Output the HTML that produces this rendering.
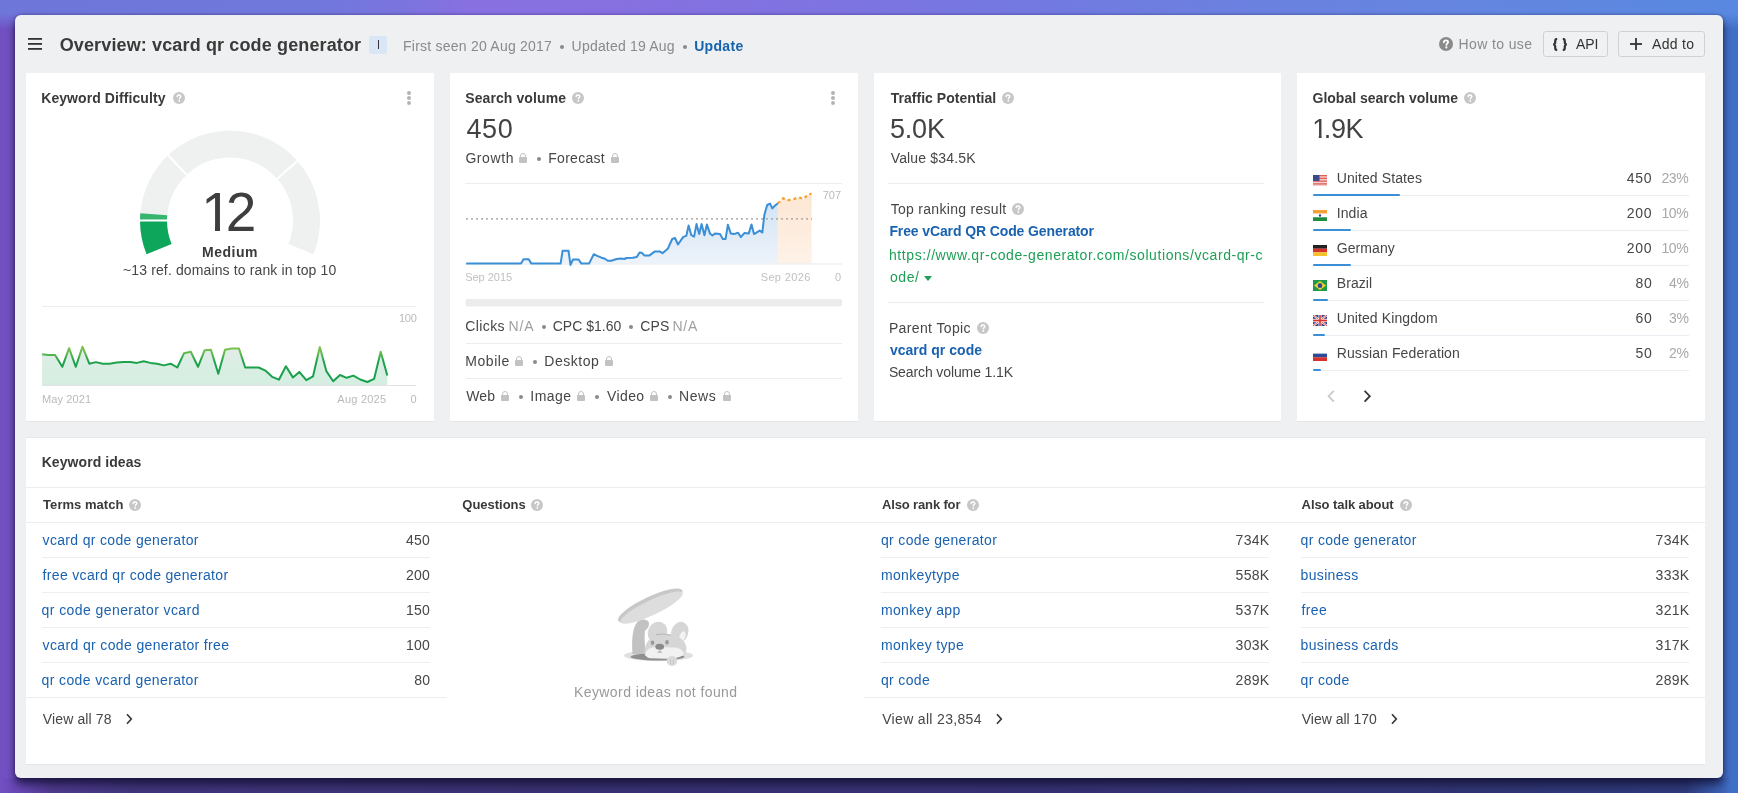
<!DOCTYPE html>
<html><head><meta charset="utf-8">
<style>
*{margin:0;padding:0;box-sizing:border-box}
html,body{width:1738px;height:793px;overflow:hidden}
body{position:relative;font-family:"Liberation Sans",sans-serif;color:#464646;font-size:14px;
background:linear-gradient(90deg,#7250c2 0%,#7a5acc 20%,#7a62d4 40%,#6a6ad6 60%,#5474d2 80%,#4070c6 100%);}
#bgt{position:absolute;left:0;top:0;width:1738px;height:30px;background:linear-gradient(90deg,#6e76da 0%,#7078dc 18%,#7a74de 23%,#8870e0 27%,#8670e0 36%,#7c74e0 50%,#7279e0 60%,#6c80e0 70%,#6486e0 85%,#5888e0 100%);-webkit-mask-image:linear-gradient(180deg,#000 0,#000 14px,transparent 30px);mask-image:linear-gradient(180deg,#000 0,#000 14px,transparent 30px)}
#bgb{position:absolute;left:0;top:778px;width:1738px;height:15px;background:linear-gradient(90deg,#7250c2 0%,#6a48b8 0.8%,#4e3a8c 3%,#40357a 8%,#3a3272 30%,#373272 60%,#303672 85%,#2e3a7a 97%,#3a62b4 99.1%,#4070c6 99.6%)}
#shadow{position:absolute;left:15px;top:15px;width:1708px;height:763px;border-radius:6px;box-shadow:0 6px 9px rgba(15,12,45,0.75),0 0 3px rgba(20,10,60,0.45)}
#win{position:absolute;left:15px;top:15px;width:1708px;height:763px;background:#eef0f1;border-radius:6px}
.a{position:absolute;white-space:nowrap}
.card{position:absolute;background:#fff;border-bottom:1px solid #e4e6e7}
.b{font-weight:700}
.h{font-weight:700;color:#3a3a3a}
.g{color:#a0a0a0}
.lnk{color:#1a62b0}
.q{display:inline-block;width:12px;height:12px;border-radius:50%;background:#c7c7c7;color:#fff;font-size:9px;font-weight:700;text-align:center;line-height:12px;vertical-align:-1px;margin-left:6px;letter-spacing:0}
.dot{display:inline-block;width:4px;height:4px;border-radius:50%;background:#8a8a8a;vertical-align:2.2px;margin:0 9px}
.lock{display:inline-block;width:8px;height:10px;position:relative;vertical-align:0px;margin-left:6px}
.lock:before{content:"";position:absolute;left:1px;top:0;width:6px;height:7px;border:1.6px solid #c2c2c2;border-radius:3px 3px 0 0;box-sizing:border-box}
.lock:after{content:"";position:absolute;left:0;top:4px;width:8px;height:6px;background:#c2c2c2;border-radius:1px}
.hr{position:absolute;height:1px;background:#ececec}
</style></head>
<body>
<div id="bgt"></div>
<div id="bgb"></div>
<div id="shadow"></div>
<div id="win"></div>
<div id="root" style="position:absolute;left:0;top:0;width:1738px;height:793px;will-change:transform">
<svg class="a" style="left:28px;top:38px" width="14" height="12" viewBox="0 0 14 12"><rect x="0" y="0" width="14" height="1.8" fill="#333"/><rect x="0" y="5" width="14" height="1.8" fill="#333"/><rect x="0" y="10" width="14" height="1.8" fill="#333"/></svg>
<div class="a b" style="left:59.70px;top:33.7px;font-size:18px;line-height:22px;letter-spacing:0.134px;color:#3a3a3a">Overview: vcard qr code generator</div>
<div class="a" style="left:369px;top:36px;width:18px;height:18px;border-radius:3px;background:#d9e6f5"></div>
<div class="a" style="left:378px;top:40px;width:1.3px;height:9px;background:#333"></div>
<div class="a " style="left:403.10px;top:37.4px;font-size:14px;line-height:18px;letter-spacing:0.229px;color:#8a8a8a">First seen 20 Aug 2017</div>
<div class="a" style="left:559.7px;top:44.7px;width:4px;height:4px;border-radius:50%;background:#8a8a8a"></div>
<div class="a " style="left:571.60px;top:37.4px;font-size:14px;line-height:18px;letter-spacing:0.200px;color:#8a8a8a">Updated 19 Aug</div>
<div class="a" style="left:682.6px;top:44.7px;width:4px;height:4px;border-radius:50%;background:#8a8a8a"></div>
<div class="a b" style="left:694.20px;top:37.4px;font-size:14px;line-height:18px;letter-spacing:0.320px;color:#1663ae">Update</div>
<svg class="a" style="left:1439px;top:37px" width="14" height="14" viewBox="0 0 12 12"><circle cx="6" cy="6" r="6" fill="#8a8a8a"/><path d="M4.2,4.6 C4.2,3.5 5,2.9 6,2.9 C7.1,2.9 7.8,3.6 7.8,4.4 C7.8,5.5 6.4,5.6 6.4,6.8" stroke="#fff" stroke-width="1.5" fill="none" stroke-linecap="round"/><circle cx="6.3" cy="8.9" r="0.9" fill="#fff"/></svg>
<div class="a " style="left:1458.60px;top:35.2px;font-size:14px;line-height:18px;letter-spacing:0.378px;color:#8a8a8a">How to use</div>
<div class="a" style="left:1543px;top:31px;width:65px;height:26px;border:1px solid #cfd1d2;border-radius:3px;background:#f0f1f2"></div>
<svg class="a" style="left:1552px;top:38px" width="16" height="13" viewBox="0 0 16 13"><path d="M5.2,0.9 C3.4,0.9 3.2,1.6 3.2,3 L3.2,4.6 C3.2,5.7 2.6,6.3 1.3,6.5 C2.6,6.7 3.2,7.3 3.2,8.4 L3.2,10 C3.2,11.4 3.4,12.1 5.2,12.1 M10.8,0.9 C12.6,0.9 12.8,1.6 12.8,3 L12.8,4.6 C12.8,5.7 13.4,6.3 14.7,6.5 C13.4,6.7 12.8,7.3 12.8,8.4 L12.8,10 C12.8,11.4 12.6,12.1 10.8,12.1" stroke="#333" stroke-width="2.2" fill="none"/></svg>
<div class="a " style="left:1576.00px;top:35.2px;font-size:14px;line-height:18px;letter-spacing:-0.100px;color:#333">API</div>
<div class="a" style="left:1618px;top:31px;width:87px;height:26px;border:1px solid #cfd1d2;border-radius:3px;background:#f0f1f2"></div>
<svg class="a" style="left:1630px;top:38px" width="12" height="12"><rect x="5.1" y="0" width="1.8" height="12" fill="#333"/><rect x="0" y="5.1" width="12" height="1.8" fill="#333"/></svg>
<div class="a " style="left:1652.00px;top:35.2px;font-size:14px;line-height:18px;letter-spacing:0.320px;color:#333">Add to</div>
<div class="card" style="left:26px;top:73px;width:408px;height:349px"></div>
<div class="card" style="left:450px;top:73px;width:408px;height:349px"></div>
<div class="card" style="left:874px;top:73px;width:407px;height:349px"></div>
<div class="card" style="left:1297px;top:73px;width:408px;height:349px"></div>
<div class="card" style="left:26px;top:436.5px;width:1679px;height:328.5px;border-top:1px solid #e6e8e9"></div>
<div class="a h" style="left:41.20px;top:89.2px;font-size:14px;line-height:18px;letter-spacing:0.082px;">Keyword Difficulty</div>
<svg class="a" style="left:173px;top:92.0px" width="12" height="12" viewBox="0 0 12 12"><circle cx="6" cy="6" r="6" fill="#c7c7c7"/><path d="M4.2,4.6 C4.2,3.5 5,2.9 6,2.9 C7.1,2.9 7.8,3.6 7.8,4.4 C7.8,5.5 6.4,5.6 6.4,6.8" stroke="#fff" stroke-width="1.5" fill="none" stroke-linecap="round"/><circle cx="6.3" cy="8.9" r="0.9" fill="#fff"/></svg>
<svg class="a" style="left:407px;top:91px" width="4" height="14"><circle cx="2" cy="2" r="1.95" fill="#b2b2b2"/><circle cx="2" cy="7" r="1.95" fill="#b2b2b2"/><circle cx="2" cy="12" r="1.95" fill="#b2b2b2"/></svg>
<svg class="a" style="left:0;top:0" width="460" height="300"><path d="M146.55,254.21 A90,90 0 1 1 313.45,254.21 L288.41,244.10 A63,63 0 1 0 171.59,244.10 Z" fill="#eff0f0"/><path d="M146.55,254.21 A90,90 0 0 1 140.00,220.50 L167.00,220.50 A63,63 0 0 0 171.59,244.10 Z" fill="#0ea65b"/><path d="M140.00,220.50 A90,90 0 0 1 140.30,213.13 L167.21,215.34 A63,63 0 0 0 167.00,220.50 Z" fill="#36b56f"/><line x1="168.00" y1="220.50" x2="139.00" y2="220.50" stroke="#fff" stroke-width="2"/><line x1="187.32" y1="175.53" x2="167.36" y2="154.49" stroke="#fff" stroke-width="2"/><line x1="276.44" y1="179.42" x2="298.15" y2="160.20" stroke="#fff" stroke-width="2"/></svg>
<div class="a" style="left:201.3px;top:182px;font-size:55px;line-height:60px;color:#3e3e3e;clip-path:polygon(0 0,60px 0,60px 44px,18.7px 44px,18.7px 60px,13.7px 60px,13.7px 44px,0 44px)">1</div>
<div class="a" style="left:225.7px;top:182px;font-size:55px;line-height:60px;color:#3e3e3e">2</div>
<div class="a h" style="left:202.00px;top:243.1px;font-size:14px;line-height:18px;letter-spacing:0.520px;">Medium</div>
<div class="a " style="left:123.00px;top:261.2px;font-size:14px;line-height:18px;letter-spacing:0.130px;">~13 ref. domains to rank in top 10</div>
<svg class="a" style="left:0;top:0" width="460" height="420"><defs><linearGradient id="kdg" gradientUnits="userSpaceOnUse" x1="0" y1="345" x2="0" y2="385"><stop offset="0" stop-color="#8cc651"/><stop offset="0.22" stop-color="#5cb94f"/><stop offset="0.4" stop-color="#1fa24c"/><stop offset="1" stop-color="#15a04c"/></linearGradient></defs><rect x="42" y="306" width="374" height="1" fill="#ededed"/><defs><linearGradient id="kdf" gradientUnits="userSpaceOnUse" x1="0" y1="346" x2="0" y2="386"><stop offset="0" stop-color="#e6ebe8"/><stop offset="0.45" stop-color="#daeee4"/><stop offset="1" stop-color="#d5eee1"/></linearGradient></defs><path d="M42.1,385.5 L42.1,354.3 48.4,355.1 55.1,354.9 62.3,366.8 69.1,348.1 75.8,366.8 82.5,346.6 89.3,363.7 96.0,362.1 102.7,363.7 109.5,363.7 116.7,362.6 123.4,361.9 130.2,361.9 136.9,362.9 143.6,361.3 150.4,362.9 157.1,363.7 163.8,365.4 170.6,363.7 177.3,367.5 184.0,353.3 190.8,351.7 198.0,366.8 204.7,350.2 210.9,349.7 218.3,373.8 225.0,349.7 231.7,348.6 239.0,348.6 245.2,367.5 251.9,367.5 258.7,367.5 265.4,370.6 272.1,376.8 278.9,379.7 285.9,366.2 292.9,377.4 299.3,371.9 306.3,380.2 313.0,376.4 319.8,347.1 326.5,371.4 333.2,381.3 340.0,375.0 346.7,377.8 353.4,375.6 360.2,379.5 367.4,382.0 374.1,378.9 380.7,351.7 387.3,375.6 L387.3,385.5 Z" fill="url(#kdf)"/><rect x="42" y="385" width="374" height="1" fill="#e3e3e3"/><polyline points="42.1,354.3 48.4,355.1 55.1,354.9 62.3,366.8 69.1,348.1 75.8,366.8 82.5,346.6 89.3,363.7 96.0,362.1 102.7,363.7 109.5,363.7 116.7,362.6 123.4,361.9 130.2,361.9 136.9,362.9 143.6,361.3 150.4,362.9 157.1,363.7 163.8,365.4 170.6,363.7 177.3,367.5 184.0,353.3 190.8,351.7 198.0,366.8 204.7,350.2 210.9,349.7 218.3,373.8 225.0,349.7 231.7,348.6 239.0,348.6 245.2,367.5 251.9,367.5 258.7,367.5 265.4,370.6 272.1,376.8 278.9,379.7 285.9,366.2 292.9,377.4 299.3,371.9 306.3,380.2 313.0,376.4 319.8,347.1 326.5,371.4 333.2,381.3 340.0,375.0 346.7,377.8 353.4,375.6 360.2,379.5 367.4,382.0 374.1,378.9 380.7,351.7 387.3,375.6" fill="none" stroke="url(#kdg)" stroke-width="2" stroke-linejoin="round"/></svg>
<div class="a " style="left:398.90px;top:311.1px;font-size:11px;line-height:14px;letter-spacing:-0.150px;color:#bababa">100</div>
<div class="a " style="left:41.90px;top:392.3px;font-size:11px;line-height:14px;letter-spacing:0.114px;color:#bababa">May 2021</div>
<div class="a " style="left:337.30px;top:392.3px;font-size:11px;line-height:14px;letter-spacing:0.243px;color:#bababa">Aug 2025</div>
<div class="a " style="left:410.60px;top:392.3px;font-size:11px;line-height:14px;letter-spacing:0.000px;color:#bababa">0</div>
<div class="a h" style="left:465.20px;top:89.2px;font-size:14px;line-height:18px;letter-spacing:0.100px;">Search volume</div>
<svg class="a" style="left:572px;top:92.0px" width="12" height="12" viewBox="0 0 12 12"><circle cx="6" cy="6" r="6" fill="#c7c7c7"/><path d="M4.2,4.6 C4.2,3.5 5,2.9 6,2.9 C7.1,2.9 7.8,3.6 7.8,4.4 C7.8,5.5 6.4,5.6 6.4,6.8" stroke="#fff" stroke-width="1.5" fill="none" stroke-linecap="round"/><circle cx="6.3" cy="8.9" r="0.9" fill="#fff"/></svg>
<svg class="a" style="left:831px;top:91px" width="4" height="14"><circle cx="2" cy="2" r="1.95" fill="#b2b2b2"/><circle cx="2" cy="7" r="1.95" fill="#b2b2b2"/><circle cx="2" cy="12" r="1.95" fill="#b2b2b2"/></svg>
<div class="a " style="left:466.5px;top:113.7px;font-size:27px;line-height:30px;color:#424242;letter-spacing:.6px">450</div>
<div class="a " style="left:465.40px;top:149.2px;font-size:14px;line-height:18px;letter-spacing:0.580px;">Growth</div>
<span class="lock" style="position:absolute;left:519.0px;top:152.7px;margin:0"></span>
<div class="a" style="left:536.8px;top:156.5px;width:4px;height:4px;border-radius:50%;background:#8a8a8a"></div>
<div class="a " style="left:548.30px;top:149.2px;font-size:14px;line-height:18px;letter-spacing:0.271px;">Forecast</div>
<span class="lock" style="position:absolute;left:611.0px;top:152.7px;margin:0"></span>
<svg class="a" style="left:0;top:0" width="870" height="320"><rect x="465" y="183" width="377" height="1" fill="#ededed"/><defs><linearGradient id="svf" gradientUnits="userSpaceOnUse" x1="0" y1="200" x2="0" y2="264"><stop offset="0" stop-color="#d3e3f4"/><stop offset="1" stop-color="#edf3fa"/></linearGradient><linearGradient id="fcf" gradientUnits="userSpaceOnUse" x1="0" y1="194" x2="0" y2="264"><stop offset="0" stop-color="#fde6d3"/><stop offset="1" stop-color="#fef2e8"/></linearGradient></defs><path d="M466.2,263.5 L466.2,263.6 521.0,263.6 523.5,259.3 528.7,259.3 531.4,263.6 560.6,263.6 562.6,250.7 568.5,250.7 570.5,264.9 573.0,259.5 578.6,259.5 581.4,263.6 589.0,263.6 593.8,254.2 596.6,255.6 601.5,257.7 605.0,258.8 607.7,260.7 611.2,260.7 616.7,259.0 620.9,258.5 624.4,259.0 626.4,258.0 632.7,257.7 636.8,257.0 639.6,252.4 641.7,252.8 644.5,255.6 649.3,255.6 654.9,251.4 659.7,251.4 662.5,253.2 668.0,248.4 672.2,239.0 675.0,238.0 678.0,244.5 683.3,236.9 686.3,235.9 688.6,225.5 691.3,235.2 694.1,236.6 696.5,224.1 699.2,234.1 701.6,224.1 704.4,235.2 706.9,224.4 709.9,233.4 712.4,235.5 715.2,233.4 720.0,234.1 722.8,238.9 725.6,238.9 727.9,224.7 730.7,233.4 733.9,234.1 738.1,232.7 740.8,237.1 744.3,233.1 748.8,233.4 751.5,224.4 754.0,234.1 759.6,230.6 762.3,232.4 764.4,214.7 767.2,205.0 770.0,203.6 772.3,208.4 774.8,205.7 777.9,203.3 L777.9,263.5 Z" fill="url(#svf)"/><path d="M777.9,263.5 L777.9,203.3 783.1,198.3 788.7,200.1 792.9,199.4 798.4,197.3 803.3,198.7 809.2,194.1 811.6,193.9 L811.6,263.5 Z" fill="url(#fcf)"/><rect x="465" y="263.5" width="377" height="1" fill="#e6eaee"/><line x1="466" y1="218.8" x2="812" y2="218.8" stroke="#9a9a9a" stroke-width="1.2" stroke-dasharray="2,3"/><polyline points="466.2,263.6 521.0,263.6 523.5,259.3 528.7,259.3 531.4,263.6 560.6,263.6 562.6,250.7 568.5,250.7 570.5,264.9 573.0,259.5 578.6,259.5 581.4,263.6 589.0,263.6 593.8,254.2 596.6,255.6 601.5,257.7 605.0,258.8 607.7,260.7 611.2,260.7 616.7,259.0 620.9,258.5 624.4,259.0 626.4,258.0 632.7,257.7 636.8,257.0 639.6,252.4 641.7,252.8 644.5,255.6 649.3,255.6 654.9,251.4 659.7,251.4 662.5,253.2 668.0,248.4 672.2,239.0 675.0,238.0 678.0,244.5 683.3,236.9 686.3,235.9 688.6,225.5 691.3,235.2 694.1,236.6 696.5,224.1 699.2,234.1 701.6,224.1 704.4,235.2 706.9,224.4 709.9,233.4 712.4,235.5 715.2,233.4 720.0,234.1 722.8,238.9 725.6,238.9 727.9,224.7 730.7,233.4 733.9,234.1 738.1,232.7 740.8,237.1 744.3,233.1 748.8,233.4 751.5,224.4 754.0,234.1 759.6,230.6 762.3,232.4 764.4,214.7 767.2,205.0 770.0,203.6 772.3,208.4 774.8,205.7 777.9,203.3" fill="none" stroke="#3a8fd6" stroke-width="2" stroke-linejoin="round"/><polyline points="777.9,203.3 783.1,198.3 788.7,200.1 792.9,199.4 798.4,197.3 803.3,198.7 809.2,194.1 811.6,193.9" fill="none" stroke="#f2a22c" stroke-width="2.2" stroke-dasharray="3,3"/><rect x="465.5" y="299" width="376.5" height="7.5" rx="2" fill="#ececec"/></svg>
<div class="a " style="right:897px;top:188.4px;font-size:11px;line-height:14px;color:#bababa">707</div>
<div class="a " style="left:465.20px;top:269.9px;font-size:11px;line-height:14px;letter-spacing:-0.029px;color:#c0c0c0">Sep 2015</div>
<div class="a " style="left:760.70px;top:269.9px;font-size:11px;line-height:14px;letter-spacing:0.357px;color:#c0c0c0">Sep 2026</div>
<div class="a " style="left:835.00px;top:269.9px;font-size:11px;line-height:14px;letter-spacing:0.000px;color:#c0c0c0">0</div>
<div class="a " style="left:465.30px;top:317.2px;font-size:14px;line-height:18px;letter-spacing:0.380px;">Clicks</div>
<div class="a g" style="left:508.50px;top:317.2px;font-size:14px;line-height:18px;letter-spacing:0.850px;">N/A</div>
<div class="a" style="left:541.6px;top:324.5px;width:4px;height:4px;border-radius:50%;background:#8a8a8a"></div>
<div class="a " style="left:552.70px;top:317.2px;font-size:14px;line-height:18px;letter-spacing:0.025px;">CPC $1.60</div>
<div class="a" style="left:629.1px;top:324.5px;width:4px;height:4px;border-radius:50%;background:#8a8a8a"></div>
<div class="a " style="left:640.20px;top:317.2px;font-size:14px;line-height:18px;letter-spacing:0.150px;">CPS</div>
<div class="a g" style="left:672.40px;top:317.2px;font-size:14px;line-height:18px;letter-spacing:0.800px;">N/A</div>
<div class="hr" style="left:466px;top:343px;width:376px;background:#ececec"></div>
<div class="a " style="left:465.30px;top:352.2px;font-size:14px;line-height:18px;letter-spacing:0.540px;">Mobile</div>
<span class="lock" style="position:absolute;left:515.0px;top:355.7px;margin:0"></span>
<div class="a" style="left:533.1px;top:359.5px;width:4px;height:4px;border-radius:50%;background:#8a8a8a"></div>
<div class="a " style="left:544.30px;top:352.2px;font-size:14px;line-height:18px;letter-spacing:0.533px;">Desktop</div>
<span class="lock" style="position:absolute;left:605.0px;top:355.7px;margin:0"></span>
<div class="hr" style="left:466px;top:378px;width:376px;background:#ececec"></div>
<div class="a " style="left:466.30px;top:387.2px;font-size:14px;line-height:18px;letter-spacing:0.100px;">Web</div>
<span class="lock" style="position:absolute;left:501.0px;top:390.7px;margin:0"></span>
<div class="a" style="left:519.1px;top:394.5px;width:4px;height:4px;border-radius:50%;background:#8a8a8a"></div>
<div class="a " style="left:530.30px;top:387.2px;font-size:14px;line-height:18px;letter-spacing:0.475px;">Image</div>
<span class="lock" style="position:absolute;left:576.7px;top:390.7px;margin:0"></span>
<div class="a" style="left:594.5px;top:394.5px;width:4px;height:4px;border-radius:50%;background:#8a8a8a"></div>
<div class="a " style="left:606.90px;top:387.2px;font-size:14px;line-height:18px;letter-spacing:0.425px;">Video</div>
<span class="lock" style="position:absolute;left:650.0px;top:390.7px;margin:0"></span>
<div class="a" style="left:667.7px;top:394.5px;width:4px;height:4px;border-radius:50%;background:#8a8a8a"></div>
<div class="a " style="left:679.10px;top:387.2px;font-size:14px;line-height:18px;letter-spacing:0.533px;">News</div>
<span class="lock" style="position:absolute;left:722.9px;top:390.7px;margin:0"></span>
<div class="a h" style="left:890.70px;top:89.4px;font-size:14px;line-height:18px;letter-spacing:0.031px;">Traffic Potential</div>
<svg class="a" style="left:1002px;top:92.0px" width="12" height="12" viewBox="0 0 12 12"><circle cx="6" cy="6" r="6" fill="#c7c7c7"/><path d="M4.2,4.6 C4.2,3.5 5,2.9 6,2.9 C7.1,2.9 7.8,3.6 7.8,4.4 C7.8,5.5 6.4,5.6 6.4,6.8" stroke="#fff" stroke-width="1.5" fill="none" stroke-linecap="round"/><circle cx="6.3" cy="8.9" r="0.9" fill="#fff"/></svg>
<div class="a " style="left:890px;top:113.7px;font-size:27px;line-height:30px;color:#424242;letter-spacing:-.2px">5.0K</div>
<div class="a " style="left:890.70px;top:149.2px;font-size:14px;line-height:18px;letter-spacing:0.164px;">Value $34.5K</div>
<div class="hr" style="left:888px;top:183px;width:376px;background:#ececec"></div>
<div class="a " style="left:890.70px;top:199.9px;font-size:14px;line-height:18px;letter-spacing:0.294px;">Top ranking result</div>
<svg class="a" style="left:1012px;top:202.7px" width="12" height="12" viewBox="0 0 12 12"><circle cx="6" cy="6" r="6" fill="#c7c7c7"/><path d="M4.2,4.6 C4.2,3.5 5,2.9 6,2.9 C7.1,2.9 7.8,3.6 7.8,4.4 C7.8,5.5 6.4,5.6 6.4,6.8" stroke="#fff" stroke-width="1.5" fill="none" stroke-linecap="round"/><circle cx="6.3" cy="8.9" r="0.9" fill="#fff"/></svg>
<div class="a b lnk" style="left:889.40px;top:222.2px;font-size:14px;line-height:18px;letter-spacing:-0.115px;">Free vCard QR Code Generator</div>
<div class="a " style="left:889.00px;top:245.7px;font-size:14px;line-height:18px;letter-spacing:0.574px;color:#1d9f55">https://www.qr-code-generator.com/solutions/vcard-qr-c</div>
<div class="a " style="left:890px;top:267.7px;font-size:14px;line-height:18px;color:#1d9f55;letter-spacing:.53px">ode/<span style="display:inline-block;width:0;height:0;border-left:4px solid transparent;border-right:4px solid transparent;border-top:5px solid #1d9f55;vertical-align:1px;margin-left:5px"></span></div>
<div class="hr" style="left:888px;top:302px;width:376px;background:#ececec"></div>
<div class="a " style="left:888.90px;top:319.4px;font-size:14px;line-height:18px;letter-spacing:0.373px;">Parent Topic</div>
<svg class="a" style="left:977px;top:322.2px" width="12" height="12" viewBox="0 0 12 12"><circle cx="6" cy="6" r="6" fill="#c7c7c7"/><path d="M4.2,4.6 C4.2,3.5 5,2.9 6,2.9 C7.1,2.9 7.8,3.6 7.8,4.4 C7.8,5.5 6.4,5.6 6.4,6.8" stroke="#fff" stroke-width="1.5" fill="none" stroke-linecap="round"/><circle cx="6.3" cy="8.9" r="0.9" fill="#fff"/></svg>
<div class="a b lnk" style="left:889.90px;top:341.3px;font-size:14px;line-height:18px;letter-spacing:0.025px;">vcard qr code</div>
<div class="a " style="left:888.90px;top:363.1px;font-size:14px;line-height:18px;letter-spacing:-0.112px;">Search volume 1.1K</div>
<div class="a h" style="left:1312.50px;top:89.2px;font-size:14px;line-height:18px;letter-spacing:0.000px;">Global search volume</div>
<svg class="a" style="left:1464px;top:92.0px" width="12" height="12" viewBox="0 0 12 12"><circle cx="6" cy="6" r="6" fill="#c7c7c7"/><path d="M4.2,4.6 C4.2,3.5 5,2.9 6,2.9 C7.1,2.9 7.8,3.6 7.8,4.4 C7.8,5.5 6.4,5.6 6.4,6.8" stroke="#fff" stroke-width="1.5" fill="none" stroke-linecap="round"/><circle cx="6.3" cy="8.9" r="0.9" fill="#fff"/></svg>
<div class="a" style="left:1312.2px;top:114.1px;font-size:27px;line-height:30px;color:#424242;clip-path:polygon(0 0,30px 0,30px 22px,9.4px 22px,9.4px 30px,6.6px 30px,6.6px 22px,0 22px)">1</div>
<div class="a" style="left:1323.8px;top:114.1px;font-size:27px;line-height:30px;color:#424242;letter-spacing:-0.35px">.9K</div>
<svg class="a" style="left:1313px;top:174.8px" width="14" height="11" viewBox="0 0 14 10" preserveAspectRatio="none"><rect width="14" height="10" fill="#fff"/><rect y="0.00" width="14" height="0.77" fill="#d8433d"/><rect y="1.43" width="14" height="0.77" fill="#d8433d"/><rect y="2.86" width="14" height="0.77" fill="#d8433d"/><rect y="4.29" width="14" height="0.77" fill="#d8433d"/><rect y="5.71" width="14" height="0.77" fill="#d8433d"/><rect y="7.14" width="14" height="0.77" fill="#d8433d"/><rect y="8.57" width="14" height="0.77" fill="#d8433d"/><rect width="6.5" height="5.4" fill="#3a4a8a"/></svg>
<div class="a " style="left:1336.70px;top:169.2px;font-size:14px;line-height:18px;letter-spacing:0.100px;">United States</div>
<div class="a " style="left:1626.70px;top:169.2px;font-size:14px;line-height:18px;letter-spacing:0.800px;">450</div>
<div class="a " style="left:1661.40px;top:169.2px;font-size:14px;line-height:18px;letter-spacing:-0.400px;color:#a8a8a8">23%</div>
<div class="hr" style="left:1313px;top:194.5px;width:376px;background:#e9edf1"></div>
<div class="a" style="left:1313px;top:194.0px;width:87px;height:2px;background:#3a8fd6;border-radius:1px"></div>
<svg class="a" style="left:1313px;top:209.8px" width="14" height="11" viewBox="0 0 14 10" preserveAspectRatio="none"><rect width="14" height="3.4" fill="#f5a13a"/><rect y="3.3" width="14" height="3.4" fill="#fff"/><rect y="6.6" width="14" height="3.4" fill="#1e8e3e"/><circle cx="7" cy="5" r="1.2" fill="#3a4a9a"/></svg>
<div class="a " style="left:1336.70px;top:204.2px;font-size:14px;line-height:18px;letter-spacing:0.100px;">India</div>
<div class="a " style="left:1626.70px;top:204.2px;font-size:14px;line-height:18px;letter-spacing:0.800px;">200</div>
<div class="a " style="left:1661.40px;top:204.2px;font-size:14px;line-height:18px;letter-spacing:-0.400px;color:#a8a8a8">10%</div>
<div class="hr" style="left:1313px;top:229.5px;width:376px;background:#e9edf1"></div>
<div class="a" style="left:1313px;top:229.0px;width:38px;height:2px;background:#3a8fd6;border-radius:1px"></div>
<svg class="a" style="left:1313px;top:244.8px" width="14" height="11" viewBox="0 0 14 10" preserveAspectRatio="none"><rect width="14" height="3.4" fill="#222"/><rect y="3.3" width="14" height="3.4" fill="#d8322c"/><rect y="6.6" width="14" height="3.4" fill="#f6c22b"/></svg>
<div class="a " style="left:1336.70px;top:239.2px;font-size:14px;line-height:18px;letter-spacing:0.100px;">Germany</div>
<div class="a " style="left:1626.70px;top:239.2px;font-size:14px;line-height:18px;letter-spacing:0.800px;">200</div>
<div class="a " style="left:1661.40px;top:239.2px;font-size:14px;line-height:18px;letter-spacing:-0.400px;color:#a8a8a8">10%</div>
<div class="hr" style="left:1313px;top:264.5px;width:376px;background:#e9edf1"></div>
<div class="a" style="left:1313px;top:264.0px;width:38px;height:2px;background:#3a8fd6;border-radius:1px"></div>
<svg class="a" style="left:1313px;top:279.8px" width="14" height="11" viewBox="0 0 14 10" preserveAspectRatio="none"><rect width="14" height="10" fill="#1f9a48"/><path d="M7,1 L13,5 L7,9 L1,5 Z" fill="#f3d02c"/><circle cx="7" cy="5" r="2.3" fill="#2d4a9a"/></svg>
<div class="a " style="left:1336.70px;top:274.2px;font-size:14px;line-height:18px;letter-spacing:0.100px;">Brazil</div>
<div class="a " style="left:1635.50px;top:274.2px;font-size:14px;line-height:18px;letter-spacing:0.800px;">80</div>
<div class="a " style="left:1669.00px;top:274.2px;font-size:14px;line-height:18px;letter-spacing:-0.400px;color:#a8a8a8">4%</div>
<div class="hr" style="left:1313px;top:299.5px;width:376px;background:#e9edf1"></div>
<div class="a" style="left:1313px;top:299.0px;width:15px;height:2px;background:#3a8fd6;border-radius:1px"></div>
<svg class="a" style="left:1313px;top:314.8px" width="14" height="11" viewBox="0 0 14 10" preserveAspectRatio="none"><rect width="14" height="10" fill="#2d3e8a"/><path d="M0,0 L14,10 M14,0 L0,10" stroke="#fff" stroke-width="2"/><path d="M0,0 L14,10 M14,0 L0,10" stroke="#d8322c" stroke-width="0.8"/><rect x="5.5" width="3" height="10" fill="#fff"/><rect y="3.5" width="14" height="3" fill="#fff"/><rect x="6.2" width="1.6" height="10" fill="#d8322c"/><rect y="4.2" width="14" height="1.6" fill="#d8322c"/></svg>
<div class="a " style="left:1336.70px;top:309.2px;font-size:14px;line-height:18px;letter-spacing:0.100px;">United Kingdom</div>
<div class="a " style="left:1635.50px;top:309.2px;font-size:14px;line-height:18px;letter-spacing:0.800px;">60</div>
<div class="a " style="left:1669.00px;top:309.2px;font-size:14px;line-height:18px;letter-spacing:-0.400px;color:#a8a8a8">3%</div>
<div class="hr" style="left:1313px;top:334.5px;width:376px;background:#e9edf1"></div>
<div class="a" style="left:1313px;top:334.0px;width:12px;height:2px;background:#3a8fd6;border-radius:1px"></div>
<svg class="a" style="left:1313px;top:349.8px" width="14" height="11" viewBox="0 0 14 10" preserveAspectRatio="none"><rect width="14" height="3.4" fill="#fff"/><rect y="3.3" width="14" height="3.4" fill="#2d4a9a"/><rect y="6.6" width="14" height="3.4" fill="#d8322c"/></svg>
<div class="a " style="left:1336.70px;top:344.2px;font-size:14px;line-height:18px;letter-spacing:0.100px;">Russian Federation</div>
<div class="a " style="left:1635.50px;top:344.2px;font-size:14px;line-height:18px;letter-spacing:0.800px;">50</div>
<div class="a " style="left:1669.00px;top:344.2px;font-size:14px;line-height:18px;letter-spacing:-0.400px;color:#a8a8a8">2%</div>
<div class="hr" style="left:1313px;top:369.5px;width:376px;background:#e9edf1"></div>
<div class="a" style="left:1313px;top:369.0px;width:8px;height:2px;background:#3a8fd6;border-radius:1px"></div>
<svg class="a" style="left:1326.5px;top:390px" width="9" height="13"><path d="M6.8,0.8 L1.6,6.2 L6.8,11.6" stroke="#c8c8c8" stroke-width="1.7" fill="none"/></svg>
<svg class="a" style="left:1363px;top:390px" width="9" height="13"><path d="M1.6,0.8 L6.8,6.2 L1.6,11.6" stroke="#383838" stroke-width="1.8" fill="none"/></svg>
<div class="a h" style="left:41.70px;top:453.2px;font-size:14px;line-height:18px;letter-spacing:0.067px;">Keyword ideas</div>
<div class="hr" style="left:26px;top:487px;width:1679px;background:#ededed"></div>
<div class="hr" style="left:26px;top:522px;width:1679px;background:#ededed"></div>
<div class="a h" style="left:43.10px;top:496.2px;font-size:13px;line-height:18px;letter-spacing:0.040px;">Terms match</div>
<svg class="a" style="left:129px;top:499.1px" width="12" height="12" viewBox="0 0 12 12"><circle cx="6" cy="6" r="6" fill="#c7c7c7"/><path d="M4.2,4.6 C4.2,3.5 5,2.9 6,2.9 C7.1,2.9 7.8,3.6 7.8,4.4 C7.8,5.5 6.4,5.6 6.4,6.8" stroke="#fff" stroke-width="1.5" fill="none" stroke-linecap="round"/><circle cx="6.3" cy="8.9" r="0.9" fill="#fff"/></svg>
<div class="a lnk" style="left:42.60px;top:531.3px;font-size:14px;line-height:18px;letter-spacing:0.327px;">vcard qr code generator</div>
<div class="a " style="left:405.90px;top:531.3px;font-size:14px;line-height:18px;letter-spacing:0.300px;">450</div>
<div class="hr" style="left:41.800000000000004px;top:557.1px;width:388.2px;background:#edf0f3"></div>
<div class="a lnk" style="left:42.60px;top:566.3px;font-size:14px;line-height:18px;letter-spacing:0.326px;">free vcard qr code generator</div>
<div class="a " style="left:405.90px;top:566.3px;font-size:14px;line-height:18px;letter-spacing:0.300px;">200</div>
<div class="hr" style="left:41.800000000000004px;top:592.1px;width:388.2px;background:#edf0f3"></div>
<div class="a lnk" style="left:41.60px;top:601.3px;font-size:14px;line-height:18px;letter-spacing:0.418px;">qr code generator vcard</div>
<div class="a " style="left:405.90px;top:601.3px;font-size:14px;line-height:18px;letter-spacing:0.300px;">150</div>
<div class="hr" style="left:41.800000000000004px;top:627.1px;width:388.2px;background:#edf0f3"></div>
<div class="a lnk" style="left:42.60px;top:636.3px;font-size:14px;line-height:18px;letter-spacing:0.363px;">vcard qr code generator free</div>
<div class="a " style="left:405.90px;top:636.3px;font-size:14px;line-height:18px;letter-spacing:0.300px;">100</div>
<div class="hr" style="left:41.800000000000004px;top:662.1px;width:388.2px;background:#edf0f3"></div>
<div class="a lnk" style="left:41.60px;top:671.3px;font-size:14px;line-height:18px;letter-spacing:0.373px;">qr code vcard generator</div>
<div class="a " style="left:414.20px;top:671.3px;font-size:14px;line-height:18px;letter-spacing:0.300px;">80</div>
<div class="a " style="left:42.80px;top:710.3px;font-size:14px;line-height:18px;letter-spacing:0.130px;">View all 78</div>
<div class="a h" style="left:462.30px;top:496.2px;font-size:13px;line-height:18px;letter-spacing:-0.012px;">Questions</div>
<svg class="a" style="left:531px;top:499.1px" width="12" height="12" viewBox="0 0 12 12"><circle cx="6" cy="6" r="6" fill="#c7c7c7"/><path d="M4.2,4.6 C4.2,3.5 5,2.9 6,2.9 C7.1,2.9 7.8,3.6 7.8,4.4 C7.8,5.5 6.4,5.6 6.4,6.8" stroke="#fff" stroke-width="1.5" fill="none" stroke-linecap="round"/><circle cx="6.3" cy="8.9" r="0.9" fill="#fff"/></svg>
<div class="a h" style="left:882.00px;top:496.2px;font-size:13px;line-height:18px;letter-spacing:-0.142px;">Also rank for</div>
<svg class="a" style="left:967px;top:499.1px" width="12" height="12" viewBox="0 0 12 12"><circle cx="6" cy="6" r="6" fill="#c7c7c7"/><path d="M4.2,4.6 C4.2,3.5 5,2.9 6,2.9 C7.1,2.9 7.8,3.6 7.8,4.4 C7.8,5.5 6.4,5.6 6.4,6.8" stroke="#fff" stroke-width="1.5" fill="none" stroke-linecap="round"/><circle cx="6.3" cy="8.9" r="0.9" fill="#fff"/></svg>
<div class="a lnk" style="left:881.00px;top:531.3px;font-size:14px;line-height:18px;letter-spacing:0.330px;">qr code generator</div>
<div class="a " style="left:1235.60px;top:531.3px;font-size:14px;line-height:18px;letter-spacing:0.300px;">734K</div>
<div class="hr" style="left:881.2px;top:557.1px;width:387.79999999999995px;background:#edf0f3"></div>
<div class="a lnk" style="left:881.00px;top:566.3px;font-size:14px;line-height:18px;letter-spacing:0.330px;">monkeytype</div>
<div class="a " style="left:1235.60px;top:566.3px;font-size:14px;line-height:18px;letter-spacing:0.300px;">558K</div>
<div class="hr" style="left:881.2px;top:592.1px;width:387.79999999999995px;background:#edf0f3"></div>
<div class="a lnk" style="left:881.00px;top:601.3px;font-size:14px;line-height:18px;letter-spacing:0.330px;">monkey app</div>
<div class="a " style="left:1235.60px;top:601.3px;font-size:14px;line-height:18px;letter-spacing:0.300px;">537K</div>
<div class="hr" style="left:881.2px;top:627.1px;width:387.79999999999995px;background:#edf0f3"></div>
<div class="a lnk" style="left:881.00px;top:636.3px;font-size:14px;line-height:18px;letter-spacing:0.330px;">monkey type</div>
<div class="a " style="left:1235.60px;top:636.3px;font-size:14px;line-height:18px;letter-spacing:0.300px;">303K</div>
<div class="hr" style="left:881.2px;top:662.1px;width:387.79999999999995px;background:#edf0f3"></div>
<div class="a lnk" style="left:881.00px;top:671.3px;font-size:14px;line-height:18px;letter-spacing:0.330px;">qr code</div>
<div class="a " style="left:1235.60px;top:671.3px;font-size:14px;line-height:18px;letter-spacing:0.300px;">289K</div>
<div class="a " style="left:882.20px;top:710.3px;font-size:14px;line-height:18px;letter-spacing:0.329px;">View all 23,854</div>
<div class="a h" style="left:1301.60px;top:496.2px;font-size:13px;line-height:18px;letter-spacing:-0.079px;">Also talk about</div>
<svg class="a" style="left:1400px;top:499.1px" width="12" height="12" viewBox="0 0 12 12"><circle cx="6" cy="6" r="6" fill="#c7c7c7"/><path d="M4.2,4.6 C4.2,3.5 5,2.9 6,2.9 C7.1,2.9 7.8,3.6 7.8,4.4 C7.8,5.5 6.4,5.6 6.4,6.8" stroke="#fff" stroke-width="1.5" fill="none" stroke-linecap="round"/><circle cx="6.3" cy="8.9" r="0.9" fill="#fff"/></svg>
<div class="a lnk" style="left:1300.60px;top:531.3px;font-size:14px;line-height:18px;letter-spacing:0.330px;">qr code generator</div>
<div class="a " style="left:1655.60px;top:531.3px;font-size:14px;line-height:18px;letter-spacing:0.300px;">734K</div>
<div class="hr" style="left:1300.8px;top:557.1px;width:388.20000000000005px;background:#edf0f3"></div>
<div class="a lnk" style="left:1300.60px;top:566.3px;font-size:14px;line-height:18px;letter-spacing:0.330px;">business</div>
<div class="a " style="left:1655.60px;top:566.3px;font-size:14px;line-height:18px;letter-spacing:0.300px;">333K</div>
<div class="hr" style="left:1300.8px;top:592.1px;width:388.20000000000005px;background:#edf0f3"></div>
<div class="a lnk" style="left:1301.60px;top:601.3px;font-size:14px;line-height:18px;letter-spacing:0.330px;">free</div>
<div class="a " style="left:1655.60px;top:601.3px;font-size:14px;line-height:18px;letter-spacing:0.300px;">321K</div>
<div class="hr" style="left:1300.8px;top:627.1px;width:388.20000000000005px;background:#edf0f3"></div>
<div class="a lnk" style="left:1300.60px;top:636.3px;font-size:14px;line-height:18px;letter-spacing:0.330px;">business cards</div>
<div class="a " style="left:1655.60px;top:636.3px;font-size:14px;line-height:18px;letter-spacing:0.300px;">317K</div>
<div class="hr" style="left:1300.8px;top:662.1px;width:388.20000000000005px;background:#edf0f3"></div>
<div class="a lnk" style="left:1300.60px;top:671.3px;font-size:14px;line-height:18px;letter-spacing:0.330px;">qr code</div>
<div class="a " style="left:1655.60px;top:671.3px;font-size:14px;line-height:18px;letter-spacing:0.300px;">289K</div>
<div class="a " style="left:1301.80px;top:710.3px;font-size:14px;line-height:18px;letter-spacing:-0.027px;">View all 170</div>
<div class="hr" style="left:26px;top:697px;width:421px;background:#ededed"></div>
<div class="hr" style="left:864px;top:697px;width:841px;background:#ededed"></div>
<div class="a " style="left:574.00px;top:683.2px;font-size:14px;line-height:18px;letter-spacing:0.409px;color:#999">Keyword ideas not found</div>
<svg class="a" style="left:124.9px;top:713px" width="8" height="12"><path d="M2,1.2 L6.3,6 L2,10.8" stroke="#3a3a3a" stroke-width="1.7" fill="none"/></svg>
<svg class="a" style="left:995.3px;top:713px" width="8" height="12"><path d="M2,1.2 L6.3,6 L2,10.8" stroke="#3a3a3a" stroke-width="1.7" fill="none"/></svg>
<svg class="a" style="left:1389.5px;top:713px" width="8" height="12"><path d="M2,1.2 L6.3,6 L2,10.8" stroke="#3a3a3a" stroke-width="1.7" fill="none"/></svg>
<svg class="a" style="left:600px;top:580px" width="110" height="95" viewBox="600 580 110 95">
<ellipse cx="658.6" cy="655.5" rx="34.5" ry="5.8" fill="#e0e0e0"/>
<ellipse cx="657.5" cy="656.8" rx="27" ry="3.6" fill="#8f8f8f"/>
<path d="M632.5,654 C631.5,640 632.5,628 637,622.5 C640,619 645,618.5 648.3,621.5 C650,624 648.5,628.5 645,630.5 C644,638 645,646 646,654 Z" fill="#c2c2c2"/>
<ellipse cx="657.5" cy="632.5" rx="9.5" ry="11" transform="rotate(25 657.5 632.5)" fill="#d6d6d6"/>
<ellipse cx="679.7" cy="632.5" rx="8.5" ry="11" transform="rotate(20 679.7 632.5)" fill="#d6d6d6"/>
<ellipse cx="682.3" cy="636.5" rx="2.8" ry="5.5" transform="rotate(20 682.3 636.5)" fill="#f3f3f3"/>
<path d="M645,656 C644,648 646,641 652,637.5 C657,634.5 663,634 669,634.5 C676,635 682,638 685,643 C687.5,647.5 686.5,652.5 684,656 Z" fill="#d6d6d6"/>
<path d="M645.5,653 C647,648.5 652,646.5 659,647 C665,647.5 670,647.3 675,647.5 C679.5,648 683,650 684,653.5 C682,657 676,658.5 668,658.8 L650,658.3 C647,658 645.5,656 645.5,653 Z" fill="#f1f1f1"/>
<path d="M656,634.8 C660,633.8 665,633.8 671,635.3" stroke="#b0b0b0" stroke-width="0.9" fill="none"/>
<ellipse cx="652.5" cy="642.8" rx="1.8" ry="2.3" fill="#999"/>
<ellipse cx="667" cy="642.3" rx="1.8" ry="2.3" fill="#999"/>
<ellipse cx="659.7" cy="646.8" rx="4.4" ry="3" fill="#8a8a8a"/>
<path d="M659.8,649.5 L659.8,652 M657.5,652.2 L662,652.2" stroke="#9a9a9a" stroke-width="0.8"/>
<ellipse cx="672" cy="661" rx="5.3" ry="5" fill="#dadada"/>
<path d="M670.5,659 L670.5,664 M673.5,659 L673.5,664" stroke="#bdbdbd" stroke-width="0.7"/>
<ellipse cx="650.3" cy="605.6" rx="35.5" ry="8.8" transform="rotate(-25.3 650.3 605.6)" fill="#c8c8c8"/>
<ellipse cx="651.7" cy="607.6" rx="34.3" ry="7.4" transform="rotate(-25.3 651.7 607.6)" fill="#dddddd"/>
</svg>
</div>
</body></html>
